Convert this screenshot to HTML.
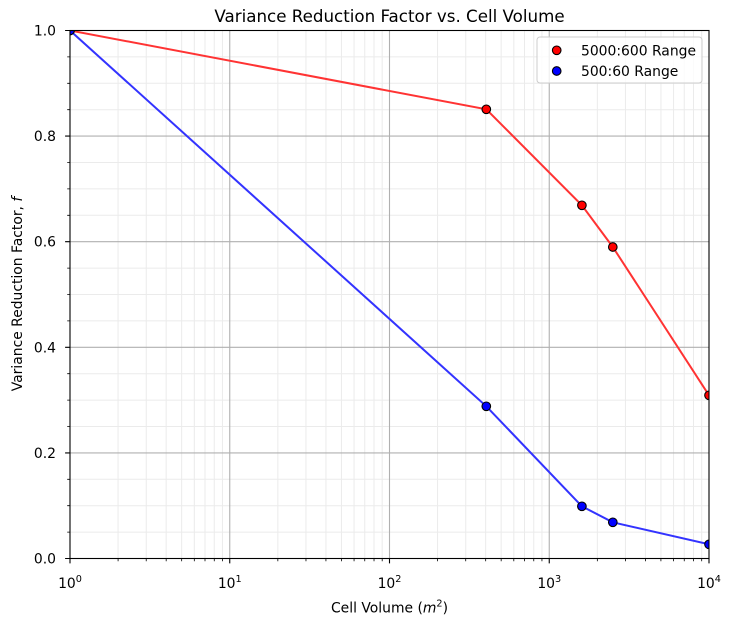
<!DOCTYPE html>
<html><head><meta charset="utf-8"><style>
html,body{margin:0;padding:0;background:#fff;}
svg{display:block;font-family:"DejaVu Sans","Liberation Sans",sans-serif;}
</style></head><body>
<svg width="731" height="626" viewBox="0 0 731 626" xmlns="http://www.w3.org/2000/svg">
<defs><clipPath id="ax"><rect x="70" y="30.5" width="639" height="528"/></clipPath></defs>
<rect width="731" height="626" fill="#fff"/>
<g stroke="#ebebeb" stroke-width="1" fill="none">
<path d="M118.09 30.5V558.5M146.22 30.5V558.5M166.18 30.5V558.5M181.66 30.5V558.5M194.31 30.5V558.5M205 30.5V558.5M214.27 30.5V558.5M222.44 30.5V558.5
M277.84 30.5V558.5M305.97 30.5V558.5M325.93 30.5V558.5M341.41 30.5V558.5M354.06 30.5V558.5M364.75 30.5V558.5M374.02 30.5V558.5M382.19 30.5V558.5
M437.59 30.5V558.5M465.72 30.5V558.5M485.68 30.5V558.5M501.16 30.5V558.5M513.81 30.5V558.5M524.5 30.5V558.5M533.77 30.5V558.5M541.94 30.5V558.5
M597.34 30.5V558.5M625.47 30.5V558.5M645.43 30.5V558.5M660.91 30.5V558.5M673.56 30.5V558.5M684.25 30.5V558.5M693.52 30.5V558.5M701.69 30.5V558.5"/>
<path d="M70 532.1H709M70 505.7H709M70 479.3H709M70 426.5H709M70 400.1H709M70 373.7H709M70 320.9H709M70 294.5H709M70 268.1H709M70 215.3H709M70 188.9H709M70 162.5H709M70 109.7H709M70 83.3H709M70 56.9H709"/>
</g>
<g stroke="#b0b0b0" stroke-width="1.1" fill="none">
<path d="M229.75 30.5V558.5M389.5 30.5V558.5M549.25 30.5V558.5"/>
<path d="M70 452.9H709M70 347.3H709M70 241.7H709M70 136.1H709"/>
</g>
<g clip-path="url(#ax)">
<polyline points="70,30.5 486.3,109.3 581.9,205.3 612.8,247 709,395.3" fill="none" stroke="#ff3333" stroke-width="2"/>
<polyline points="70,30.5 486.3,406.3 581.9,506.3 612.8,522.3 709,544.3" fill="none" stroke="#3333ff" stroke-width="2"/>
<g fill="#ff0000" stroke="#000" stroke-width="1.1">
<circle cx="70" cy="30.5" r="4.3"/><circle cx="486.3" cy="109.3" r="4.3"/><circle cx="581.9" cy="205.3" r="4.3"/><circle cx="612.8" cy="247" r="4.3"/><circle cx="709" cy="395.3" r="4.3"/>
</g>
<g fill="#0000ff" stroke="#000" stroke-width="1.1">
<circle cx="70" cy="30.5" r="4.3"/><circle cx="486.3" cy="406.3" r="4.3"/><circle cx="581.9" cy="506.3" r="4.3"/><circle cx="612.8" cy="522.3" r="4.3"/><circle cx="709" cy="544.3" r="4.3"/>
</g>
</g>
<rect x="70" y="30.5" width="639" height="528" fill="none" stroke="#000" stroke-width="1.1"/>
<!-- x ticks -->
<g stroke="#000" stroke-width="1.1">
<path d="M70 558.5v4.9M229.75 558.5v4.9M389.5 558.5v4.9M549.25 558.5v4.9M709 558.5v4.9"/>
<path d="M70 30.5h-4.9M70 136.1h-4.9M70 241.7h-4.9M70 347.3h-4.9M70 452.9h-4.9M70 558.5h-4.9"/>
</g>
<g stroke="#000" stroke-width="0.8">
<path d="M118.09 558.5v2.8M146.22 558.5v2.8M166.18 558.5v2.8M181.66 558.5v2.8M194.31 558.5v2.8M205 558.5v2.8M214.27 558.5v2.8M222.44 558.5v2.8
M277.84 558.5v2.8M305.97 558.5v2.8M325.93 558.5v2.8M341.41 558.5v2.8M354.06 558.5v2.8M364.75 558.5v2.8M374.02 558.5v2.8M382.19 558.5v2.8
M437.59 558.5v2.8M465.72 558.5v2.8M485.68 558.5v2.8M501.16 558.5v2.8M513.81 558.5v2.8M524.5 558.5v2.8M533.77 558.5v2.8M541.94 558.5v2.8
M597.34 558.5v2.8M625.47 558.5v2.8M645.43 558.5v2.8M660.91 558.5v2.8M673.56 558.5v2.8M684.25 558.5v2.8M693.52 558.5v2.8M701.69 558.5v2.8"/>
<path d="M70 532.1h-2.8M70 505.7h-2.8M70 479.3h-2.8M70 426.5h-2.8M70 400.1h-2.8M70 373.7h-2.8M70 320.9h-2.8M70 294.5h-2.8M70 268.1h-2.8M70 215.3h-2.8M70 188.9h-2.8M70 162.5h-2.8M70 109.7h-2.8M70 83.3h-2.8M70 56.9h-2.8"/>
</g>
<g font-size="13.9" fill="#000" text-anchor="end">
<text x="56" y="35.5">1.0</text>
<text x="56" y="141.1">0.8</text>
<text x="56" y="246.7">0.6</text>
<text x="56" y="352.3">0.4</text>
<text x="56" y="457.9">0.2</text>
<text x="56" y="563.5">0.0</text>
</g>
<g font-size="13.9" fill="#000" text-anchor="middle">
<text x="70" y="588">10<tspan font-size="9.7" dy="-6">0</tspan></text>
<text x="229.75" y="588">10<tspan font-size="9.7" dy="-6">1</tspan></text>
<text x="389.5" y="588">10<tspan font-size="9.7" dy="-6">2</tspan></text>
<text x="549.25" y="588">10<tspan font-size="9.7" dy="-6">3</tspan></text>
<text x="709" y="588">10<tspan font-size="9.7" dy="-6">4</tspan></text>
</g>
<text x="389.5" y="612.5" font-size="13.9" text-anchor="middle" fill="#000">Cell Volume (<tspan font-style="italic">m</tspan><tspan font-size="9.7" dy="-6">2</tspan><tspan dy="6">)</tspan></text>
<text transform="translate(22,294) rotate(-90)" font-size="13.9" text-anchor="middle" fill="#000">Variance Reduction Factor, <tspan font-style="italic">f</tspan></text>
<text x="389.5" y="22" font-size="16.7" text-anchor="middle" fill="#000">Variance Reduction Factor vs. Cell Volume</text>
<!-- legend -->
<rect x="537" y="37" width="165" height="46" rx="3" fill="#fff" fill-opacity="0.8" stroke="#cccccc" stroke-width="1"/>
<circle cx="556.7" cy="50.3" r="4.3" fill="#ff0000" stroke="#000" stroke-width="1.1"/>
<circle cx="556.7" cy="71" r="4.3" fill="#0000ff" stroke="#000" stroke-width="1.1"/>
<g font-size="13.9" fill="#000">
<text x="581" y="55.3">5000:600 Range</text>
<text x="581" y="76">500:60 Range</text>
</g>
</svg>
</body></html>
